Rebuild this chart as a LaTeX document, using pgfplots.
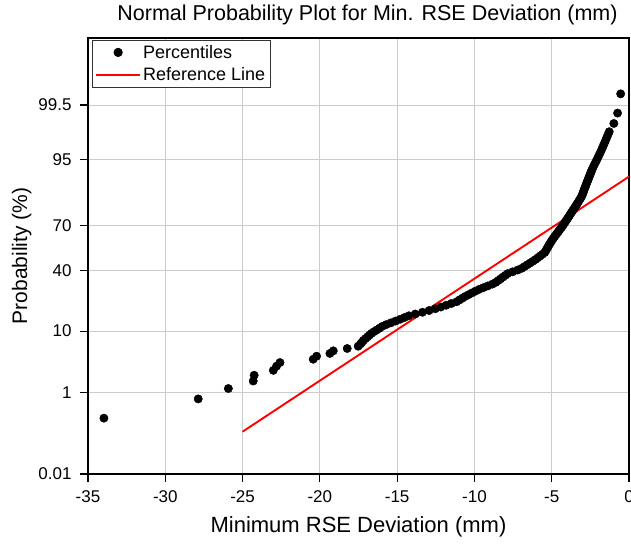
\documentclass[border=0pt]{standalone}
\usepackage{pgfplots}
\pgfplotsset{compat=1.18}
\usepackage{fontspec}
\setmainfont{Liberation Sans}
\pgfplotsset{
  dotleg/.style={legend image code/.code={\draw[##1, mark repeat=2, mark phase=2] plot coordinates {(0pt,0pt) (22pt,0pt) (44pt,0pt)};}},
  lineleg/.style={legend image code/.code={\draw[##1] (0pt,0pt) -- (44pt,0pt);}},
}
\begin{document}
\begin{tikzpicture}
\begin{axis}[
  name=ax,
  scale only axis,
  width=541pt, height=436pt,
  xmin=-35, xmax=0,
  ymin=-3.719016, ymax=3.719016,
  xtick={-35,-30,-25,-20,-15,-10,-5,0},
  xticklabels={-35,-30,-25,-20,-15,-10,-5,0},
  ytick={-3.719016,-2.326348,-1.281552,-0.253347,0.524401,1.644854,2.575829},
  yticklabels={0.01,1,10,40,70,95,99.5},
  /pgf/number format/assume math mode=true,
  tick align=outside,
  major tick length=8pt,
  xtick pos=bottom, ytick pos=left,
  tick style={black, line width=1.2pt},
  axis line style={black, line width=1.6pt},
  grid=major,
  major grid style={draw=black!20, line width=0.8pt},
  ticklabel style={font=\fontsize{17}{19}\selectfont},
  xticklabel style={yshift=-5pt},
  yticklabel style={xshift=-5pt},
  title={Normal Probability Plot for Min. RSE Deviation (mm)},
  title style={font=\fontsize{21.5}{23}\selectfont, yshift=3pt, xshift=9pt},
  xlabel={Minimum RSE Deviation (mm)},
  xlabel style={font=\fontsize{22}{24}\selectfont, yshift=-7pt},
  ylabel={Probability (\%)},
  ylabel style={font=\fontsize{21}{23}\selectfont, yshift=0pt},
  legend style={at={(0.007,0.996)}, anchor=north west, draw=black!80, line width=0.8pt,
    font=\fontsize{18}{20}\selectfont, fill=white, inner sep=3pt, row sep=4pt},
  legend cell align=left,
]
\addplot[only marks, mark=*, mark size=4.2pt, black, dotleg]
table[row sep=\\] {
x y\\
-33.97 -2.766\\
-27.87 -2.438\\
-25.92 -2.261\\
-24.31 -2.133\\
-24.25 -2.034\\
-23.01 -1.951\\
-22.80 -1.879\\
-22.58 -1.817\\
-20.43 -1.761\\
-20.21 -1.709\\
-19.35 -1.662\\
-19.13 -1.618\\
-18.23 -1.578\\
-17.52 -1.539\\
-17.37 -1.50\\
-17.27 -1.47\\
-17.18 -1.44\\
-17.05 -1.41\\
-16.92 -1.38\\
-16.79 -1.35\\
-16.66 -1.32\\
-16.49 -1.29\\
-16.31 -1.26\\
-16.13 -1.23\\
-15.96 -1.20\\
-15.70 -1.17\\
-15.40 -1.14\\
-15.10 -1.11\\
-14.81 -1.08\\
-14.53 -1.05\\
-14.24 -1.02\\
-13.83 -0.99\\
-13.36 -0.96\\
-12.93 -0.93\\
-12.53 -0.90\\
-12.17 -0.87\\
-11.83 -0.84\\
-11.49 -0.81\\
-11.15 -0.78\\
-10.97 -0.75\\
-10.78 -0.72\\
-10.60 -0.69\\
-10.38 -0.66\\
-10.16 -0.63\\
-9.94 -0.60\\
-9.70 -0.57\\
-9.42 -0.54\\
-9.13 -0.51\\
-8.84 -0.48\\
-8.62 -0.45\\
-8.47 -0.42\\
-8.31 -0.39\\
-8.16 -0.36\\
-8.00 -0.33\\
-7.85 -0.30\\
-7.53 -0.27\\
-7.21 -0.24\\
-6.94 -0.21\\
-6.76 -0.18\\
-6.58 -0.15\\
-6.40 -0.12\\
-6.22 -0.09\\
-6.05 -0.06\\
-5.90 -0.03\\
-5.75 0.00\\
-5.60 0.03\\
-5.45 0.06\\
-5.38 0.09\\
-5.32 0.12\\
-5.25 0.15\\
-5.19 0.18\\
-5.12 0.21\\
-5.05 0.24\\
-4.98 0.27\\
-4.90 0.30\\
-4.82 0.33\\
-4.73 0.36\\
-4.65 0.39\\
-4.56 0.42\\
-4.48 0.45\\
-4.39 0.48\\
-4.31 0.51\\
-4.23 0.54\\
-4.15 0.57\\
-4.08 0.60\\
-4.00 0.63\\
-3.93 0.66\\
-3.85 0.69\\
-3.78 0.72\\
-3.70 0.75\\
-3.63 0.78\\
-3.55 0.81\\
-3.48 0.84\\
-3.41 0.87\\
-3.33 0.90\\
-3.26 0.93\\
-3.19 0.96\\
-3.12 0.99\\
-3.06 1.02\\
-3.01 1.05\\
-2.97 1.08\\
-2.93 1.11\\
-2.89 1.14\\
-2.84 1.17\\
-2.80 1.20\\
-2.76 1.23\\
-2.71 1.26\\
-2.67 1.29\\
-2.62 1.32\\
-2.58 1.35\\
-2.53 1.38\\
-2.49 1.41\\
-2.44 1.44\\
-2.40 1.47\\
-2.31 1.52\\
-2.22 1.57\\
-2.12 1.62\\
-2.03 1.67\\
-1.94 1.72\\
-1.85 1.77\\
-1.76 1.82\\
-1.68 1.87\\
-1.60 1.92\\
-1.52 1.97\\
-1.44 2.02\\
-1.36 2.07\\
-1.28 2.12\\
-0.98 2.261\\
-0.74 2.438\\
-0.54 2.766\\
};
\addlegendentry{Percentiles}
\addplot[red, line width=1.9pt, lineleg]
coordinates {(-25,-2.997) (0,1.354)};
\addlegendentry{Reference Line}
\coordinate (bl) at (rel axis cs:0,0);
\coordinate (tr) at (rel axis cs:1,1);
\end{axis}
\pgfresetboundingbox
\path ([shift={(-88pt,-70pt)}]bl) rectangle ([shift={(2pt,38pt)}]tr);
\end{tikzpicture}
\end{document}
